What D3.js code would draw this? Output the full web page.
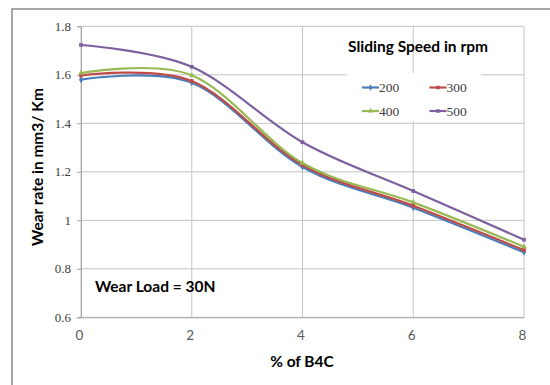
<!DOCTYPE html>
<html>
<head>
<meta charset="utf-8">
<script src="https://cdn.jsdelivr.net/npm/d3@7"></script>
<style>
html,body{margin:0;padding:0;background:#fff;}
svg{display:block;}
</style>
</head>
<body>
<svg id="chart" width="550" height="385"></svg>
<script>
// ---- data ----
const percentB4C = [0, 2, 4, 6, 8];
const speed200 = [1.580, 1.567, 1.220, 1.052, 0.868];
const speed300 = [1.597, 1.574, 1.228, 1.060, 0.877];
const speed400 = [1.607, 1.598, 1.236, 1.074, 0.891];
const speed500 = [1.723, 1.633, 1.322, 1.121, 0.920];
const seriesNames = ["200", "300", "400", "500"];
const yTicks = [0.6, 0.8, 1.0, 1.2, 1.4, 1.6, 1.8];
const xTicks = [0, 2, 4, 6, 8];

const seriesValues = [speed200, speed300, speed400, speed500];
const colors = ["#4a7ebb", "#be4b48", "#98b954", "#7d60a0"];

const svg = d3.select("#chart");

// outer frame
svg.append("rect").attr("x", 12).attr("y", 9).attr("width", 560).attr("height", 400)
  .attr("fill", "none").attr("stroke", "#8c8c8c").attr("stroke-width", 1.5);

const x = d3.scaleLinear().domain([0, 8]).range([81, 524]);
const y = d3.scaleLinear().domain([0.6, 1.8]).range([317.3, 26.3]);

// gridlines
const grid = svg.append("g");
grid.selectAll("line.h").data(yTicks).join("line")
  .attr("x1", x(0)).attr("x2", x(8))
  .attr("y1", d => y(d)).attr("y2", d => y(d))
  .attr("stroke", "#c4c4c4").attr("stroke-width", 1);
grid.selectAll("line.v").data(xTicks).join("line")
  .attr("y1", y(0.6)).attr("y2", y(1.8))
  .attr("x1", d => x(d)).attr("x2", d => x(d))
  .attr("stroke", "#c4c4c4").attr("stroke-width", 1);

// y axis
const yAxis = d3.axisLeft(y).tickValues(yTicks).tickSize(4).tickPadding(6)
  .tickFormat(d => d === 1 ? "1" : d3.format(".1f")(d));
const gy = svg.append("g").attr("transform", `translate(${x(0)},0)`).call(yAxis);
gy.select(".domain").attr("stroke", "#a6a6a6");
gy.selectAll(".tick line").attr("stroke", "#a6a6a6");
gy.selectAll(".tick text").attr("font-family", "'Liberation Serif', serif")
  .attr("font-size", 13).attr("fill", "#404040");

// x axis
const xAxis = d3.axisBottom(x).tickValues(xTicks).tickSize(0).tickPadding(13)
  .tickFormat(d3.format("d"));
const gx = svg.append("g").attr("transform", `translate(0,${y(0.6)})`).call(xAxis);
gx.select(".domain").attr("stroke", "#a6a6a6");
gx.selectAll(".tick text").attr("font-family", "Lato, 'Open Sans', sans-serif")
  .attr("font-size", 13.5).attr("fill", "#595959").attr("dx", -2);

// lines
const line = d3.line().x((d, i) => x(percentB4C[i])).y(d => y(d))
  .curve(d3.curveCatmullRom.alpha(0));
const symbols = [d3.symbolDiamond, d3.symbolSquare, d3.symbolTriangle, d3.symbolSquare];

seriesValues.forEach((vals, k) => {
  svg.append("path").datum(vals).attr("d", line)
    .attr("fill", "none").attr("stroke", colors[k]).attr("stroke-width", 2.2);
  svg.append("g").selectAll("path").data(vals).join("path")
    .attr("d", d3.symbol().type(symbols[k]).size(14))
    .attr("transform", (d, i) => `translate(${x(percentB4C[i])},${y(d)})`)
    .attr("fill", colors[k]);
});

// legend
svg.append("rect").attr("x", 347).attr("y", 73).attr("width", 134).attr("height", 48)
  .attr("fill", "#fff");
svg.append("text").attr("x", 418).attr("y", 52).attr("text-anchor", "middle")
  .attr("font-family", "Lato, sans-serif").attr("font-weight", "bold")
  .attr("font-size", 15.5).attr("fill", "#000").text("Sliding Speed in rpm");
const legPos = [[362, 87.5], [429.5, 87.5], [362, 111], [429.5, 111]];
seriesNames.forEach((name, k) => {
  const [lx, ly] = legPos[k];
  const g = svg.append("g");
  g.append("line").attr("x1", lx).attr("x2", lx + 17).attr("y1", ly).attr("y2", ly)
    .attr("stroke", colors[k]).attr("stroke-width", 2.2);
  g.append("path").attr("d", d3.symbol().type(symbols[k]).size(12))
    .attr("transform", `translate(${lx + 8.5},${ly})`).attr("fill", colors[k]);
  g.append("text").attr("x", lx + 17).attr("y", ly + 4.5)
    .attr("font-family", "'Liberation Serif', serif").attr("font-size", 13.5)
    .attr("fill", "#404040").text(name);
});

// annotation
svg.append("text").attr("x", 95).attr("y", 292)
  .attr("font-family", "Lato, sans-serif").attr("font-weight", "bold")
  .attr("font-size", 15.5).attr("fill", "#000").text("Wear Load = 30N");

// axis titles
svg.append("text").attr("x", 302).attr("y", 367).attr("text-anchor", "middle")
  .attr("font-family", "Lato, sans-serif").attr("font-weight", "bold")
  .attr("font-size", 15.5).attr("fill", "#000").text("% of B4C");
svg.append("text").attr("transform", "translate(43,167) rotate(-90)")
  .attr("text-anchor", "middle")
  .attr("font-family", "Lato, sans-serif").attr("font-weight", "bold")
  .attr("font-size", 15.5).attr("fill", "#000").text("Wear rate in mm3/ Km");
</script>
</body>
</html>
